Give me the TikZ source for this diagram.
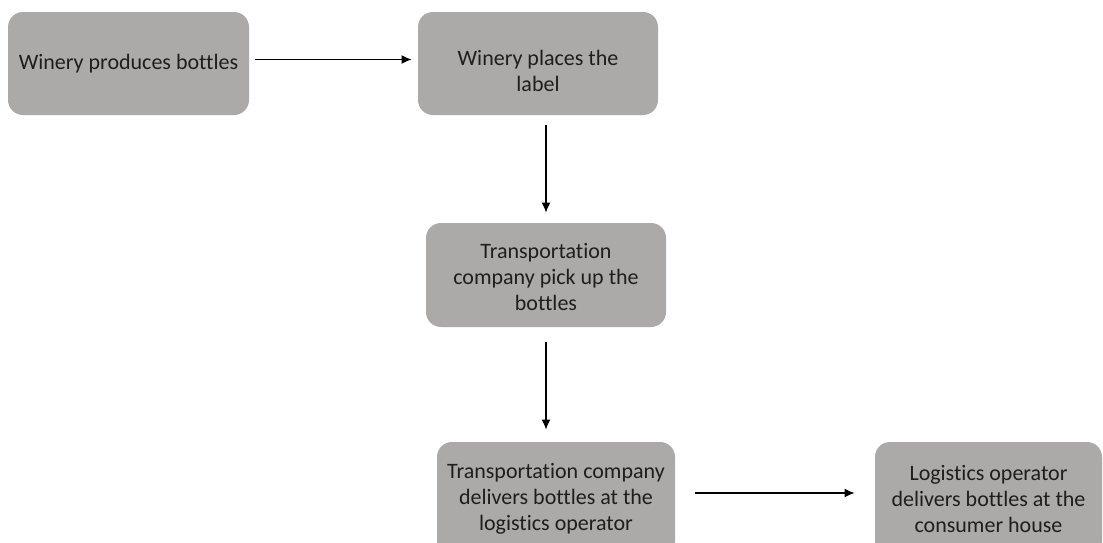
\documentclass[tikz,border=0pt]{standalone}
\usepackage{fontspec}
\setmainfont{Carlito}[Ligatures=NoCommon]
\usetikzlibrary{arrows.meta}
\definecolor{boxgrey}{RGB}{172,169,169}
\definecolor{inkgrey}{RGB}{30,30,30}
\tikzset{stage/.style={rectangle, rounded corners=7.5pt, fill=boxgrey, align=center, inner sep=0pt,
    text=inkgrey, font=\fontsize{11}{13}\selectfont}}
\tikzset{flow/.style={-{Latex[length=5pt,width=4.5pt]}, line width=0.7pt}}

\begin{document}
\begin{tikzpicture}[x=0.5pt,y=-0.5pt]
  \useasboundingbox (0,0) rectangle (1103,542);
  \fill[white] (0,0) rectangle (1103,542);
  \foreach \x/\y/\w/\h/\lab/\txt in {
    128.5/63.5/120.5/51.5/produce/{Winery produces bottles},
    538/63.5/120/51.5/label/{\rule{0pt}{15pt}Winery places the\\label},
    546/275/120/52/pickup/{\rule{0pt}{10pt}Transportation\\company pick up the\\bottles},
    556/499/119/57/deliver/{Transportation company\\delivers bottles at the\\logistics operator},
    988.5/499/113.5/57/consumer/{Logistics operator\\delivers bottles at the\\consumer house}%
  } {
    \node[stage, minimum width=\w pt, minimum height=\h pt] (\lab) at (\x, \y) {\txt};
  }

  \draw[flow, shorten <=3pt, shorten >=3pt] ([yshift=2pt]produce.east) -- ([yshift=2pt]label.west);
  \draw[flow, shorten <=5pt, shorten >=5pt] (pickup.north |- label.south) -- (pickup.north);
  \draw[flow, shorten <=7.5pt, shorten >=6pt] (pickup.south) -- (pickup.south |- deliver.north);
  \draw[flow, shorten <=10pt, shorten >=10pt] ([yshift=3pt]deliver.east) -- ([yshift=3pt]consumer.west);
\end{tikzpicture}
\end{document}
